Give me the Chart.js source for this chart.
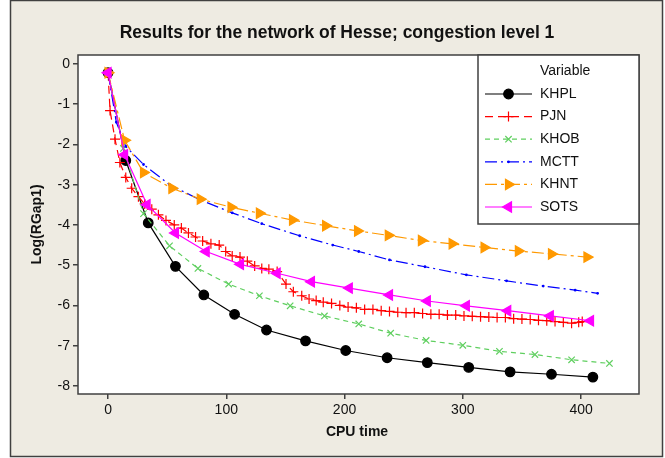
<!DOCTYPE html>
<html>
<head>
<meta charset="utf-8">
<title>Results for the network of Hesse; congestion level 1</title>
<script src="https://cdn.jsdelivr.net/npm/chart.js@4.4.1/dist/chart.umd.min.js"></script>
<style>
body { margin: 0; background: #fff; }
canvas { display: block; }
</style>
</head>
<body>
<canvas id="chart" width="665" height="458"></canvas>
<script>
// values
const xTicks = [0, 100, 200, 300, 400];
const yTicks = [0, -1, -2, -3, -4, -5, -6, -7, -8];

const khplX = [0, 15, 34, 57, 81, 107, 134, 167, 201, 236, 270, 305, 340, 375, 410];
const khplY = [-0.22, -2.40, -3.95, -5.03, -5.74, -6.22, -6.61, -6.88, -7.12, -7.30, -7.42, -7.54, -7.65, -7.71, -7.78];

const pjnX = [0, 1.7, 5.9, 10, 15, 20, 25.7, 31, 37, 42.6, 49, 56, 62, 68, 74, 80, 87, 94, 99.5, 105, 111.6, 117.8, 124, 130, 136, 143,
  150.5, 156.7, 163.8, 170, 176, 182, 189, 196, 203, 210, 217, 224, 231, 238, 245, 252, 259, 266, 273, 280, 287, 294, 301, 308, 315,
  322, 329, 336, 343, 350, 357, 364, 371, 378, 385, 392, 398, 401];
const pjnY = [-0.22, -1.16, -1.87, -2.45, -2.82, -3.09, -3.30, -3.48, -3.61, -3.75, -3.89, -4.00, -4.08, -4.20, -4.30, -4.40, -4.47, -4.50, -4.66, -4.77, -4.80, -4.90, -5.02, -5.08, -5.10, -5.16,
  -5.47, -5.66, -5.76, -5.84, -5.88, -5.92, -5.95, -6.00, -6.04, -6.06, -6.10, -6.10, -6.13, -6.15, -6.17, -6.18, -6.18, -6.20, -6.22, -6.22, -6.24, -6.24, -6.26, -6.27, -6.28,
  -6.29, -6.30, -6.30, -6.33, -6.34, -6.35, -6.37, -6.38, -6.40, -6.42, -6.44, -6.42, -6.40];

const khobX = [0, 13, 30, 52, 76, 102, 128, 154, 183, 212, 239, 269, 300, 331, 361, 392, 424];
const khobY = [-0.22, -2.10, -3.72, -4.52, -5.08, -5.47, -5.76, -6.01, -6.26, -6.46, -6.69, -6.87, -6.99, -7.14, -7.22, -7.35, -7.44];

const mcttX = [0, 7, 15, 30, 52, 78, 105, 130, 162, 190, 212, 238, 268, 303, 337, 368, 395, 414];
const mcttY = [-0.22, -1.45, -2.05, -2.50, -3.00, -3.38, -3.70, -3.97, -4.27, -4.50, -4.66, -4.87, -5.04, -5.24, -5.39, -5.52, -5.62, -5.70];

const khntX = [0, 14, 30, 54, 78, 104, 128, 156, 184, 211, 237, 265, 291, 318, 347, 375, 405];
const khntY = [-0.22, -1.90, -2.70, -3.09, -3.36, -3.56, -3.71, -3.88, -4.02, -4.15, -4.26, -4.39, -4.47, -4.56, -4.65, -4.72, -4.80];

const sotsX = [0, 14, 33, 57, 83, 112, 143, 172, 204, 238, 270, 303, 338, 374, 408];
const sotsY = [-0.22, -2.26, -3.50, -4.20, -4.66, -4.98, -5.20, -5.41, -5.57, -5.74, -5.89, -6.01, -6.13, -6.26, -6.38];

const FONT = '"Liberation Sans", Arial, sans-serif';
const FRAME = '#404040';

function pts(xs, ys) {
  return xs.map((x, i) => ({x: x, y: ys[i]}));
}

function series(label, xs, ys, color, dash, style, radius, rotation, filled) {
  return {
    label: label,
    data: pts(xs, ys),
    borderColor: color,
    backgroundColor: color,
    borderWidth: 1.2,
    borderDash: dash,
    pointStyle: style,
    pointRadius: radius,
    pointRotation: rotation,
    pointBorderWidth: 1.2,
    pointBackgroundColor: filled ? color : 'transparent',
    pointBorderColor: color,
    tension: 0
  };
}

const datasets = [
  series('KHPL', khplX, khplY, '#000000', [], 'circle', 4.8, 0, true),
  series('PJN', pjnX, pjnY, '#ff0000', [8, 5], 'cross', 5, 0, false),
  series('KHOB', khobX, khobY, '#5fcf5f', [5, 4], 'crossRot', 4.5, 0, false),
  series('MCTT', mcttX, mcttY, '#0000ff', [12, 4, 2, 4], 'circle', 0.8, 0, true),
  series('KHNT', khntX, khntY, '#ff9900', [12, 4, 3, 4], 'triangle', 6, 90, true),
  series('SOTS', sotsX, sotsY, '#ff00ff', [], 'triangle', 6, -90, true)
];
// later series are painted over earlier ones
datasets.forEach((d, i) => { d.order = datasets.length - i; });

const decor = {
  id: 'decor',
  beforeDraw(chart) {
    const ctx = chart.ctx, a = chart.chartArea;
    ctx.save();
    ctx.fillStyle = '#ffffff';
    ctx.fillRect(0, 0, chart.width, chart.height);
    ctx.fillStyle = '#eeebe2';
    ctx.fillRect(10, 0, 653, 457);
    ctx.strokeStyle = FRAME;
    ctx.lineWidth = 1.5;
    ctx.strokeRect(10.5, 0.5, 652, 456);
    ctx.fillStyle = '#ffffff';
    ctx.fillRect(a.left, a.top, a.right - a.left, a.bottom - a.top);
    ctx.restore();
  },
  afterDraw(chart) {
    const ctx = chart.ctx, a = chart.chartArea;
    ctx.save();
    ctx.strokeStyle = FRAME;
    ctx.lineWidth = 1.5;
    ctx.strokeRect(a.left, a.top, a.right - a.left, a.bottom - a.top);

    ctx.fillStyle = '#111';
    ctx.textAlign = 'center';
    ctx.textBaseline = 'middle';
    ctx.font = 'bold 17.5px ' + FONT;
    ctx.fillText('Results for the network of Hesse; congestion level 1', 337, 33);
    ctx.font = 'bold 14px ' + FONT;
    ctx.fillText('CPU time', 357, 432);
    ctx.save();
    ctx.translate(37, (a.top + a.bottom) / 2);
    ctx.rotate(-Math.PI / 2);
    ctx.fillText('Log(RGap1)', 0, 0);
    ctx.restore();

    // legend box
    const lx = 478, ly = a.top, lw = a.right - lx, lh = 169;
    ctx.fillStyle = '#ffffff';
    ctx.fillRect(lx, ly, lw, lh);
    ctx.strokeStyle = FRAME;
    ctx.strokeRect(lx, ly, lw, lh);
    ctx.fillStyle = '#111';
    ctx.font = '14px ' + FONT;
    ctx.textAlign = 'left';
    ctx.fillText('Variable', 540, 71);
    chart.data.datasets.forEach((d, i) => {
      const y = 94 + i * 22.6;
      ctx.save();
      ctx.strokeStyle = d.borderColor;
      ctx.lineWidth = d.borderWidth;
      ctx.setLineDash(d.borderDash);
      ctx.beginPath();
      ctx.moveTo(485, y);
      ctx.lineTo(532, y);
      ctx.stroke();
      ctx.setLineDash([]);
      ctx.fillStyle = d.pointBackgroundColor;
      ctx.strokeStyle = d.pointBorderColor;
      Chart.helpers.drawPoint(ctx, {
        pointStyle: d.pointStyle, rotation: d.pointRotation,
        radius: d.pointRadius, borderWidth: d.pointBorderWidth
      }, 508.5, y);
      ctx.restore();
      ctx.fillStyle = '#111';
      ctx.fillText(d.label, 540, y);
    });
    ctx.restore();
  }
};

const axisTicks = {color: '#111', font: {family: FONT, size: 14}};

new Chart(document.getElementById('chart'), {
  type: 'line',
  data: {datasets: datasets},
  options: {
    responsive: false,
    animation: false,
    layout: {padding: {top: 55, right: 26, bottom: 0, left: 0}},
    plugins: {legend: {display: false}, title: {display: false}, tooltip: {enabled: false}},
    scales: {
      x: {
        type: 'linear',
        min: -25.4,
        max: 449,
        afterFit: (s) => { s.height = 64; },
        afterBuildTicks: (s) => { s.ticks = xTicks.map((v) => ({value: v})); },
        grid: {drawOnChartArea: false, drawTicks: true, tickLength: 5, color: FRAME, lineWidth: 1.5},
        border: {display: false},
        ticks: Object.assign({padding: 3, maxRotation: 0}, axisTicks)
      },
      y: {
        type: 'linear',
        min: -8.2,
        max: 0.22,
        afterFit: (s) => { s.width = 78; },
        afterBuildTicks: (s) => { s.ticks = yTicks.map((v) => ({value: v})); },
        grid: {drawOnChartArea: false, drawTicks: true, tickLength: 5, color: FRAME, lineWidth: 1.5},
        border: {display: false},
        ticks: Object.assign({padding: 3}, axisTicks)
      }
    }
  },
  plugins: [decor]
});
</script>
</body>
</html>
